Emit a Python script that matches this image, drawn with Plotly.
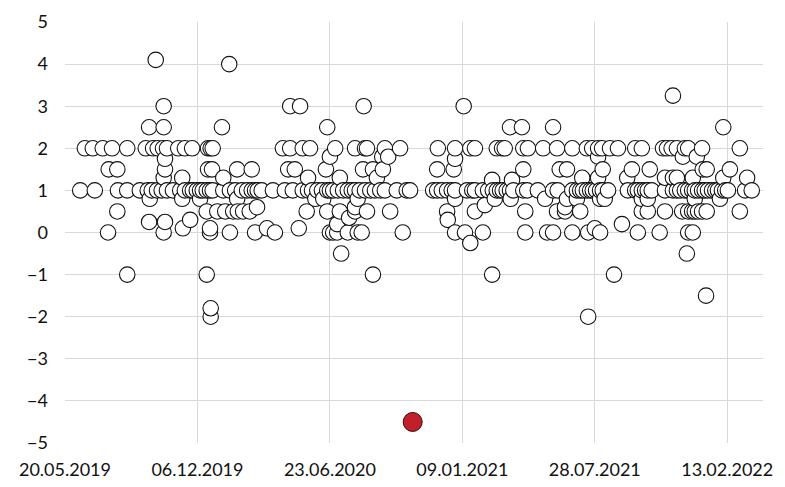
import pandas as pd
import plotly.graph_objects as go

start_date = "2019-05-20"

# day offsets (from start_date) of observations at each value level
days_4_1 = [137]
days_4_0 = [248]
days_3_25 = [918]
days_3_0 = [149, 340, 355, 451, 602]
days_2_5 = [127, 149, 237, 396, 672, 690, 737, 994]
days_2_0 = [30, 42, 57, 71, 94, 122, 133, 140, 148, 154,
            171, 181, 192, 216, 220, 223, 329, 340,
            359, 370, 408, 438, 453, 456, 483, 506,
            563, 589, 612, 619, 652, 660, 664, 692,
            699, 722, 743, 766, 788, 796, 805, 811, 823, 835, 861,
            871, 903, 909, 916, 924, 936, 941, 962, 1019]
days_1_8 = [400, 479, 488, 805, 933, 954]
days_1_75 = [151, 589]
days_1_5 = [66, 79, 151, 216, 222, 260, 282, 337, 347, 394, 450, 465, 480,
            562, 587, 692, 747, 758, 812, 856, 883, 963, 969, 1004]
days_1_3 = [149, 177, 239, 367, 415, 471, 781, 805, 849, 906, 918, 924, 948, 994, 1030]
days_1_25 = [645, 675]
days_1_0 = [23, 45, 80, 94, 113, 125, 131, 139, 146, 154, 163,
            174, 181, 189, 193, 199, 204, 208, 214, 219, 223, 239, 249, 257, 267,
            275, 282, 287, 291, 297, 314, 332, 344,
            359, 367, 373, 381, 388, 396, 400, 405, 412, 420, 427, 433, 438, 445,
            453, 461, 468, 476, 483, 501, 516,
            521, 556, 562, 569, 577, 584, 589, 607, 615, 619, 631, 639, 646, 652,
            657, 661, 667, 672, 677, 692,
            698, 714, 737, 744, 766, 773, 778, 782, 788, 793, 797, 802, 808, 812,
            820, 850, 861, 865,
            871, 876, 880, 886, 906, 918, 924, 929, 936, 941, 947, 951, 956, 962,
            966, 971, 977, 982, 986, 992, 997, 1001, 1027, 1037]
days_0_8 = [128, 177, 204, 260, 378, 390, 442, 589, 649, 673,
            725, 758, 773, 808, 815, 871, 880, 951, 989]
days_0_65 = [634]
days_0_6 = [290, 438, 755]
days_0_5 = [79, 214, 230, 242, 254, 261, 269, 279, 365, 396, 415, 438, 456, 491,
            577, 619, 695, 743, 755, 778,
            871, 880, 906, 932, 941, 947, 951, 956, 962, 969, 1019]
days_0_35 = [429]
days_0_3 = [189, 578]
days_0_25 = [127, 151]
days_0_2 = [411, 841]
days_0_1 = [178, 219, 305, 353, 800]
days_0_0 = [65, 149, 219, 249, 287, 317, 400, 405, 411, 427, 442, 448, 510,
            589, 604, 631, 695, 728, 737, 766, 790, 808, 865, 898, 941, 948]
days_m0_25 = [612]
days_m0_5 = [417, 939]
days_m1_0 = [94, 214, 465, 645, 829]
days_m1_5 = [968]
days_m1_8 = [220]
days_m2_0 = [220, 790]

# highlighted outlier
outlier_day = [525]
outlier_value = [-4.5]

levels = [
    (4.1, days_4_1), (4.0, days_4_0), (3.25, days_3_25), (3.0, days_3_0),
    (2.5, days_2_5), (2.0, days_2_0), (1.8, days_1_8), (1.75, days_1_75),
    (1.5, days_1_5), (1.3, days_1_3), (1.25, days_1_25), (1.0, days_1_0),
    (0.8, days_0_8), (0.65, days_0_65), (0.6, days_0_6), (0.5, days_0_5),
    (0.35, days_0_35), (0.3, days_0_3), (0.25, days_0_25), (0.2, days_0_2),
    (0.1, days_0_1), (0.0, days_0_0), (-0.25, days_m0_25), (-0.5, days_m0_5),
    (-1.0, days_m1_0), (-1.5, days_m1_5), (-1.8, days_m1_8), (-2.0, days_m2_0),
]

rows = [(d, v) for v, ds in levels for d in ds]
rows.sort()
t0 = pd.Timestamp(start_date)
x = [t0 + pd.Timedelta(days=d) for d, _ in rows]
y = [v for _, v in rows]

fig = go.Figure()
fig.add_trace(go.Scatter(
    x=x, y=y, mode="markers",
    marker=dict(size=15.5, color="white", line=dict(color="#111111", width=1.1)),
    showlegend=False, hoverinfo="x+y",
))
fig.add_trace(go.Scatter(
    x=[t0 + pd.Timedelta(days=d) for d in outlier_day], y=outlier_value,
    mode="markers",
    marker=dict(size=19, color="#c0202a", line=dict(color="#3a0a0a", width=1)),
    showlegend=False,
))

x_end = t0 + pd.Timedelta(days=1054)
fig.update_layout(
    width=769, height=471,
    margin=dict(l=57, r=14, t=14, b=36),
    paper_bgcolor="white", plot_bgcolor="white",
    font=dict(family="Lato", size=18, color="#111111"),
    xaxis=dict(
        type="date", range=[t0, x_end], automargin=False,
        tick0=start_date, dtick=200 * 86400000, tickformat="%d.%m.%Y",
        showgrid=True, gridcolor="#d9d9d9", gridwidth=1,
        zeroline=False, showline=False, ticks="",
        ticklabelstandoff=14,
    ),
    yaxis=dict(
        range=[-5, 5], dtick=1, tick0=0, automargin=False,
        showgrid=True, gridcolor="#d9d9d9", gridwidth=1,
        zeroline=False, showline=False, ticks="",
        ticklabelstandoff=16,
    ),
)

fig.write_html("out.html")
